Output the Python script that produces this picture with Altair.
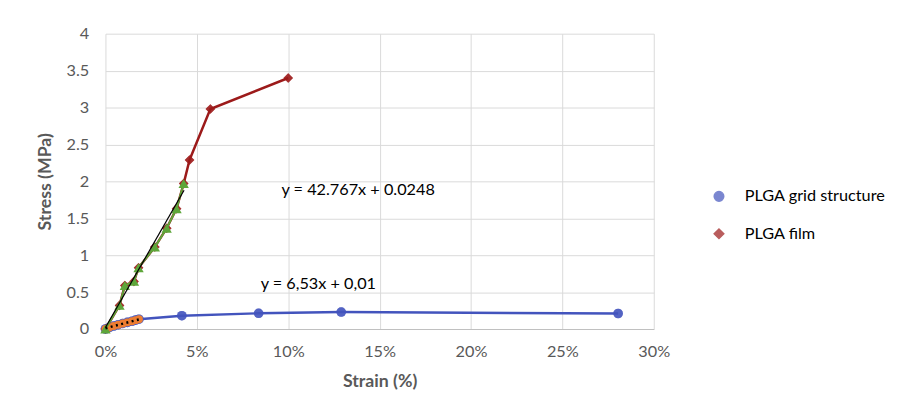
import altair as alt
import pandas as pd

# ---- data (strain as fraction, stress in MPa) ----
grid_strain = [0.0, 0.0020, 0.0045, 0.0070, 0.0095, 0.0120, 0.0145, 0.0165, 0.0183, 0.0418, 0.0838, 0.129, 0.2805]
grid_stress = [0.0, 0.020, 0.040, 0.058, 0.075, 0.090, 0.105, 0.120, 0.133, 0.180, 0.213, 0.230, 0.210]

film_strain = [0.0, 0.0077, 0.0106, 0.0156, 0.0181, 0.0270, 0.0335, 0.0389, 0.0428, 0.0460, 0.0574, 0.100]
film_stress = [0.0, 0.32, 0.59, 0.645, 0.83, 1.11, 1.365, 1.63, 1.97, 2.29, 2.98, 3.40]

# linear-region subsets (fit series)
orange_strain = grid_strain[:9]
orange_stress = grid_stress[:9]
green_strain = film_strain[:9]
green_stress = film_stress[:9]

# trend lines
trend_film_strain = [0.0, 0.0430]
trend_film_stress = [0.02, 1.88]
trend_grid_strain = [0.0, 0.0183]
trend_grid_stress = [0.01, 0.13]

labels_text = ["y = 42.767x + 0.0248", "y = 6,53x + 0,01"]
labels_x = [0.0963, 0.0849]
labels_y = [1.88, 0.61]

x_ticks = [0, 0.05, 0.10, 0.15, 0.20, 0.25, 0.30]
y_ticks = [0, 0.5, 1, 1.5, 2, 2.5, 3, 3.5, 4]

series_names = ["PLGA grid structure", "PLGA film"]
series_colors = ["#4354BD", "#9C1A1A"]
series_shapes = ["circle", "diamond"]

FONT = "Lato"
GRAY = "#595959"

grid_df = pd.DataFrame({"strain": grid_strain, "stress": grid_stress, "series": series_names[0], "order": range(len(grid_strain))})
film_df = pd.DataFrame({"strain": film_strain, "stress": film_stress, "series": series_names[1], "order": range(len(film_strain))})
main = pd.concat([grid_df, film_df])
orange = pd.DataFrame({"strain": orange_strain, "stress": orange_stress})
green = pd.DataFrame({"strain": green_strain, "stress": green_stress, "order": range(len(green_strain))})
tf = pd.DataFrame({"strain": trend_film_strain, "stress": trend_film_stress})
tg = pd.DataFrame({"strain": trend_grid_strain, "stress": trend_grid_stress})
lab = pd.DataFrame({"text": labels_text, "strain": labels_x, "stress": labels_y})

xenc = alt.X("strain:Q", scale=alt.Scale(domain=[0, 0.30], nice=False),
             axis=alt.Axis(values=x_ticks, tickCount=12, format=".0%",
                           title="Strain (%)", grid=True, ticks=False, domain=True,
                           domainColor="#BFBFBF", gridColor="#D9D9D9",
                           labelFlush=False, labelOverlap=False,
                           labelFont=FONT, labelFontSize=16.5, labelColor=GRAY, labelPadding=15,
                           titleFont=FONT, titleFontSize=18, titleFontWeight="bold", titleColor=GRAY,
                           titlePadding=13))
yenc = alt.Y("stress:Q", scale=alt.Scale(domain=[0, 4], nice=False),
             axis=alt.Axis(values=y_ticks, tickCount=12, format="~g",
                           title="Stress (MPa)", grid=True, ticks=False, domain=False,
                           gridColor="#D9D9D9", labelFlush=False, labelOverlap=False,
                           labelFont=FONT, labelFontSize=16.5, labelColor=GRAY, labelPadding=17,
                           titleFont=FONT, titleFontSize=18, titleFontWeight="bold", titleColor=GRAY,
                           titlePadding=12))

legend = alt.Legend(
    title=None, orient="none", legendX=615, legendY=157, padding=0,
    labelFont=FONT, labelFontSize=16.5, labelColor="#000000", labelOffset=18,
    symbolSize=95, rowPadding=21,
)
cscale = alt.Scale(domain=series_names, range=series_colors)
sscale = alt.Scale(domain=series_names, range=series_shapes)

lines = alt.Chart(main).mark_line(strokeWidth=2.5).encode(
    x=xenc, y=yenc, color=alt.Color("series:N", scale=cscale, legend=None), order="order:Q")
pts = alt.Chart(main).mark_point(filled=True, size=95).encode(
    x="strain:Q", y="stress:Q",
    color=alt.Color("series:N", scale=cscale, legend=legend),
    shape=alt.Shape("series:N", scale=sscale, legend=legend))
orange_pts = alt.Chart(orange).mark_point(filled=True, opacity=1, size=65, color="#ED7D31").encode(
    x="strain:Q", y="stress:Q")
green_line = alt.Chart(green).mark_line(strokeWidth=2, color="#5EA63A").encode(x="strain:Q", y="stress:Q", order="order:Q")
green_pts = alt.Chart(green).mark_point(filled=True, opacity=1, size=110, shape="triangle-up", color="#5EA63A").encode(
    x="strain:Q", y="stress:Q")
trend_f = alt.Chart(tf).mark_line(strokeWidth=1.25, color="#000000").encode(x="strain:Q", y="stress:Q")
trend_g = alt.Chart(tg).mark_line(strokeWidth=2.5, color="#000000", strokeDash=[2, 3.5]).encode(x="strain:Q", y="stress:Q")
texts = alt.Chart(lab).mark_text(align="left", baseline="middle", font=FONT, fontSize=16.5, color="#000000").encode(
    x="strain:Q", y="stress:Q", text="text:N")

chart = alt.layer(pts, lines, pts, orange_pts, green_line, green_pts, trend_f, trend_g, texts).properties(
    width=557, height=300,
    padding={"left": 28, "top": 15, "right": 5, "bottom": 5},
).configure_view(stroke=None)

chart.save("out.html", embed_options={"renderer": "svg", "actions": False})
